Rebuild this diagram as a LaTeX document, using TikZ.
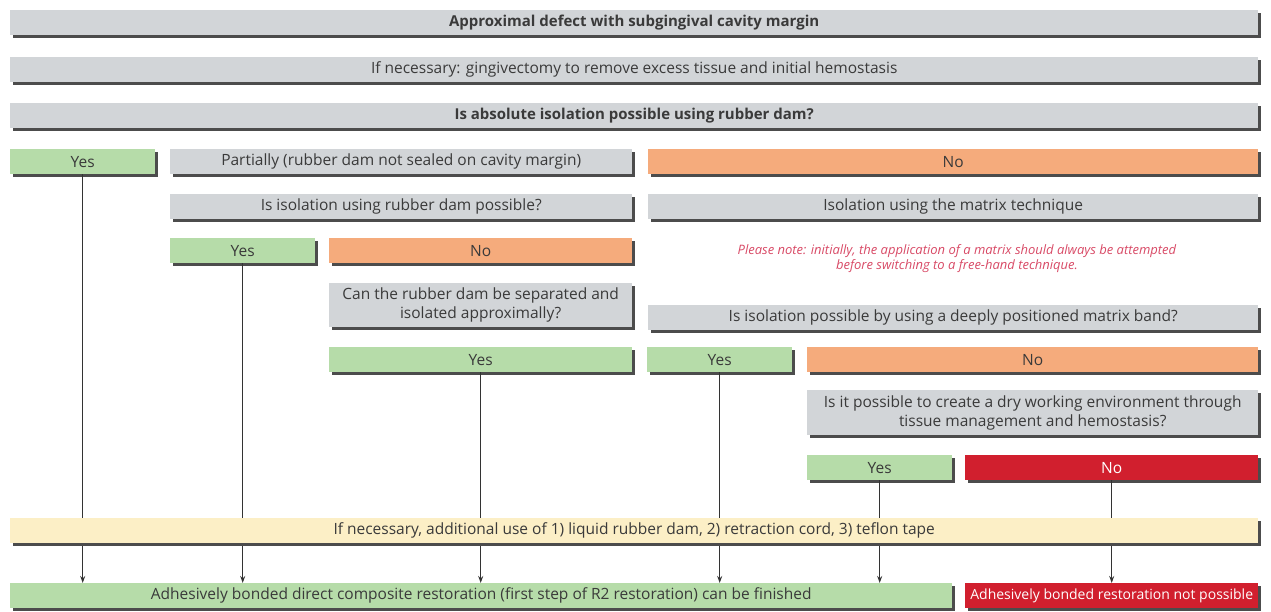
\documentclass[tikz,border=0pt]{standalone}
\usepackage{fontspec}
\setmainfont{Open Sans}
\usetikzlibrary{arrows.meta,shadows}

\definecolor{boxgray}{HTML}{D2D5D8}
\definecolor{boxgreen}{HTML}{B6DCA9}
\definecolor{boxorange}{HTML}{F5AB7C}
\definecolor{boxred}{HTML}{D11F2E}
\definecolor{boxyellow}{HTML}{FCEFC6}
\definecolor{textgray}{HTML}{3A3A3A}
\definecolor{notered}{HTML}{D84A66}

\begin{document}
\begin{tikzpicture}
  [
    x=1pt, y=-1pt,
    box/.style =
      {rectangle, anchor=north west, inner sep=0pt, align=center,
       minimum height=25pt, text=textgray,
       font=\fontsize{15.5}{19}\selectfont,
       general shadow={fill=black!70, shadow xshift=3pt, shadow yshift=-3pt}},
    gbox/.style = {box, fill=boxgray},
    ybox/.style = {box, fill=boxgreen},
    nbox/.style = {box, fill=boxorange},
    rbox/.style = {box, fill=boxred, text=white},
    arr/.style =
      {-{Stealth[length=7pt,width=5pt]}, draw=black!80, line width=1.1pt}
  ]

\useasboundingbox (0,0) rectangle (1271,612);

% header rows
\node[gbox, minimum width=1248pt, font=\fontsize{15}{19}\selectfont\bfseries] (defect) at (10,10)
  {Approximal defect with subgingival cavity margin};
\node[gbox, minimum width=1248pt] (gingiv) at (10,57)
  {If necessary: gingivectomy to remove excess tissue and initial hemostasis};
\node[gbox, minimum width=1248pt, font=\fontsize{15}{19}\selectfont\bfseries] (absiso) at (10,103)
  {Is absolute isolation possible using rubber dam?};

% first answers
\node[ybox, minimum width=145pt] (yesA) at (10,149) {Yes};
\node[gbox, minimum width=462pt] (partly) at (170,149)
  {Partially (rubber dam not sealed on cavity margin)};
\node[nbox, minimum width=610pt] (noA) at (648,149) {No};

\node[gbox, minimum width=462pt] (damq) at (170,194)
  {Is isolation using rubber dam possible?};
\node[gbox, minimum width=610pt] (matrix) at (648,194)
  {Isolation using the matrix technique};

\node[ybox, minimum width=145pt] (yesB) at (170,238) {Yes};
\node[nbox, minimum width=303pt] (noB) at (329,238) {No};

\node[text=notered, align=center, font=\fontsize{13}{15}\selectfont\itshape]
  (note) at (957,259)
  {Please note: initially, the application of a matrix should always be attempted\\
   before switching to a free-hand technique.};

\node[gbox, minimum width=303pt, minimum height=44pt] (sepq) at (329,283)
  {Can the rubber dam be separated and\\ isolated approximally?};
\node[gbox, minimum width=610pt] (bandq) at (648,305)
  {Is isolation possible by using a deeply positioned matrix band?};

\node[ybox, minimum width=303pt] (yesC) at (329,347) {Yes};
\node[ybox, minimum width=145pt] (yesD) at (647,347) {Yes};
\node[nbox, minimum width=451pt] (noC) at (807,347) {No};

\node[gbox, minimum width=451pt, minimum height=45pt] (dryq) at (807,390)
  {Is it possible to create a dry working environment through\\
   tissue management and hemostasis?};

\node[ybox, minimum width=145pt] (yesE) at (807,455) {Yes};
\node[rbox, minimum width=293pt] (noD) at (965,455) {No};

% results
\node[ybox, minimum width=942pt] (done) at (10,583)
  {Adhesively bonded direct composite restoration (first step of R2 restoration) can be finished};
\node[rbox, minimum width=293pt, font=\fontsize{14}{17}\selectfont] (fail) at (965,583)
  {Adhesively bonded restoration not possible};

% arrows run behind the yellow bar
\draw[arr] (yesA.south) -- (yesA.south |- done.north);
\draw[arr] (yesB.south) -- (yesB.south |- done.north);
\draw[arr] (yesC.south) -- (yesC.south |- done.north);
\draw[arr] (yesD.south) -- (yesD.south |- done.north);
\draw[arr] (yesE.south) -- (yesE.south |- done.north);
\draw[arr] (noD.south) -- (fail.north);

\node[box, fill=boxyellow, minimum width=1248pt] (extra) at (10,518)
  {If necessary, additional use of 1) liquid rubber dam, 2) retraction cord, 3) teflon tape};

\end{tikzpicture}
\end{document}
